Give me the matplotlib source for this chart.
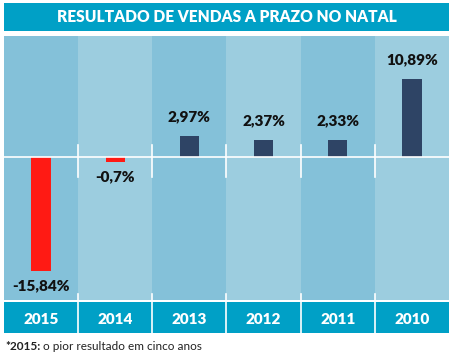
import matplotlib
matplotlib.use("Agg")
import matplotlib.pyplot as plt
from matplotlib.patches import Rectangle

years = ["2015", "2014", "2013", "2012", "2011", "2010"]
values = [-15.84, -0.7, 2.97, 2.37, 2.33, 10.89]
labels = ["-15,84%", "-0,7%", "2,97%", "2,37%", "2,33%", "10,89%"]
title = "RESULTADO DE VENDAS A PRAZO NO NATAL"

BAND = "#00A0C6"
COL_DARK = "#84C1D9"
COL_LIGHT = "#9CCDDF"
NEG = "#FF1A14"
POS = "#2E4465"

plt.rcParams['font.family'] = ['Lato', 'DejaVu Sans']

W, H = 454, 355
fig = plt.figure(figsize=(W / 100, H / 100), dpi=100)

def fy(px):
    return 1 - px / H

# title band
fig.add_artist(Rectangle((4 / W, fy(31)), 445 / W, 28 / H, transform=fig.transFigure,
                         facecolor=BAND, edgecolor="none"))
fig.text(226.5 / W, fy(17), title, color="white", fontsize=11.2, fontweight="heavy",
         ha="center", va="center")

# main axes
s = 7.2  # px per percent
ax = fig.add_axes([4 / W, fy(300), 445 / W, 264 / H])
ax.set_xlim(-0.5, len(years) - 0.5)
ax.set_ylim(-143 / s, 121 / s)
ax.axis("off")
for i in range(len(years)):
    ax.axvspan(i - 0.5, i + 0.5, color=COL_DARK if i % 2 == 0 else COL_LIGHT, lw=0, zorder=0)

colors = [NEG if v < 0 else POS for v in values]
ax.bar(range(len(years)), values, width=0.26, color=colors, zorder=2)
ax.axhline(0, color="white", lw=1.2, zorder=3)
for i in range(1, len(years)):
    ax.plot([i - 0.5, i - 0.5], [12 / s, -20 / s], color="white", lw=1.2, zorder=3)

for i, (v, lab) in enumerate(zip(values, labels)):
    if v >= 0:
        ax.annotate(lab, (i, v), xytext=(0, 9), textcoords="offset points",
                    ha="center", va="bottom", fontsize=11, fontweight="heavy", color="#111111")
    else:
        ax.annotate(lab, (i, v), xytext=(0, -6), textcoords="offset points",
                    ha="center", va="top", fontsize=11, fontweight="heavy", color="#111111")

# year band
bx = fig.add_axes([4 / W, fy(333), 445 / W, 31 / H])
bx.set_xlim(-0.5, len(years) - 0.5)
bx.set_ylim(0, 1)
bx.axis("off")
bx.add_patch(Rectangle((-0.5, 0), len(years), 1, facecolor=BAND, edgecolor="none", zorder=0))
for i, y in enumerate(years):
    bx.text(i, 0.45, y, color="white", fontsize=11, fontweight="heavy",
            ha="center", va="center")
for i in range(1, len(years)):
    bx.plot([i - 0.5, i - 0.5], [1 + 8 / 31, -5 / 31], color="white", lw=1.2,
            clip_on=False, zorder=3)

# footnote
t = fig.text(5 / W, fy(347), "*2015:", fontsize=8.5, fontweight="bold", color="#222222",
             ha="left", va="center")
fig.canvas.draw()
bb = t.get_window_extent()
fig.text((bb.x1 + 3) / W, fy(347), "o pior resultado em cinco anos", fontsize=8.5,
         color="#222222", ha="left", va="center")

fig.savefig("out.png", dpi=100, facecolor="white")
